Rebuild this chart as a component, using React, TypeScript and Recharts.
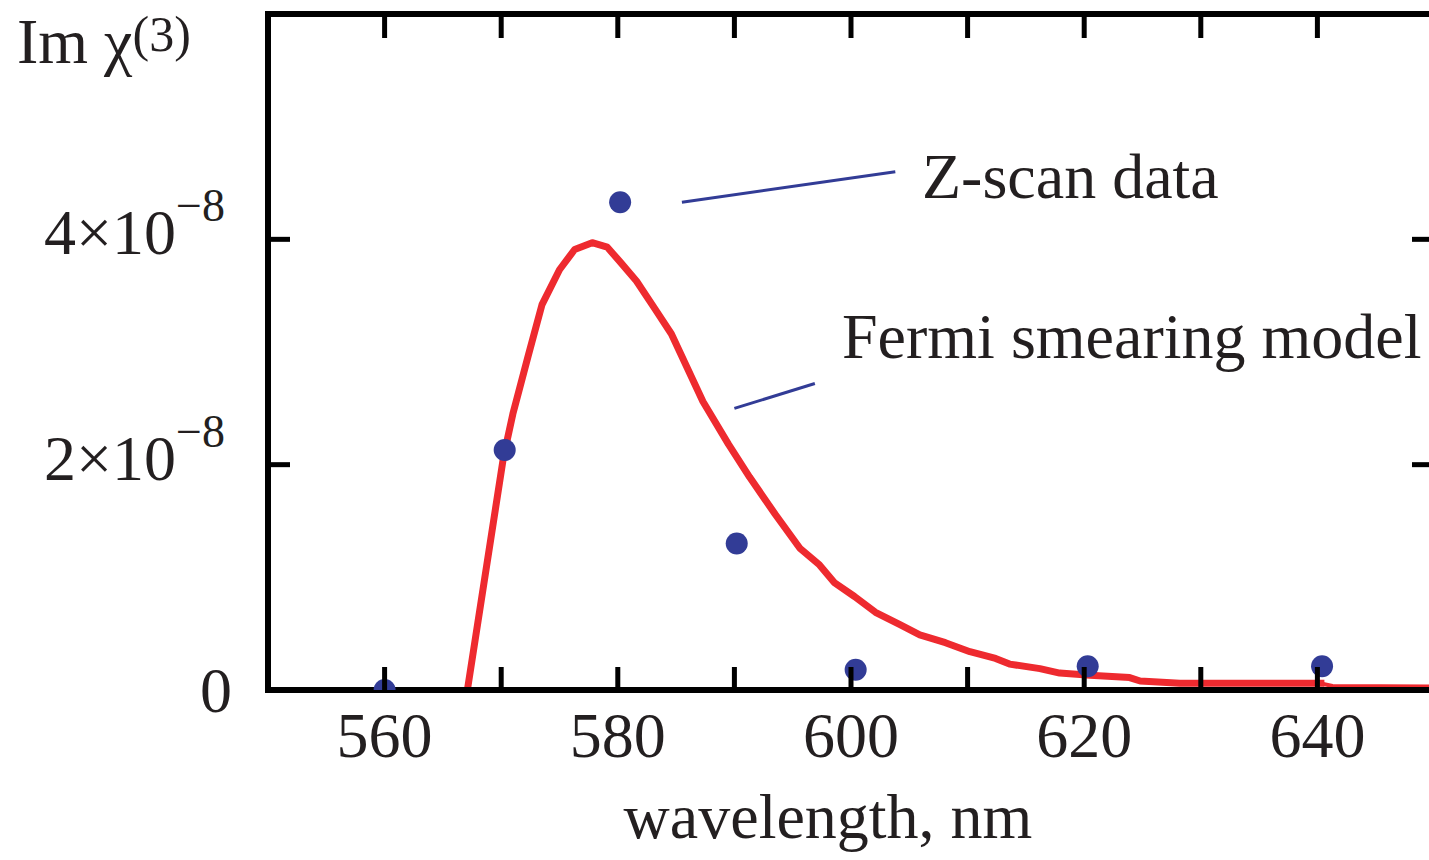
import { ComposedChart, Line, Scatter, XAxis, YAxis, ReferenceLine } from "recharts";

const FONT = '"Liberation Serif", "Times New Roman", Times, serif';
const INK = "#231F20";
const RED = "#EE2A2F";
const BLUE = "#323C96";

// layout
const CHART_W = 1440;
const CHART_H = 860;
const MARGIN = { top: 13, right: 5, left: 0, bottom: 0 };
const TOP_AXIS_H = 1;
const BOTTOM_AXIS_H = 170;
const PLOT_H = CHART_H - MARGIN.top - TOP_AXIS_H - BOTTOM_AXIS_H;

// x axis: wavelength, nm
const xTicks = [560, 570, 580, 590, 600, 610, 620, 630, 640];
const xLabels = [560, 580, 600, 620, 640];
// y axis: Im chi(3), in units of 1e-8
const yMax = 6;
const yTicks = [0, 2, 4];
const yRightTicks = [2, 4];

// Z-scan data points
const zscanWl = [560, 570.3, 580.2, 590.2, 600.4, 620.3, 640.4];
const zscanVal = [0, 2.13, 4.33, 1.3, 0.18, 0.21, 0.21];

// Fermi smearing model curve
const modelWl = [
  567.1, 570.2, 571.0, 572.3, 573.5, 575.0, 576.3, 577.8, 579.1, 580.2,
  581.6, 583.2, 584.6, 587.3, 589.5, 591.3, 593.5, 595.6, 597.3, 598.6,
  600.3, 602.1, 604.2, 605.9, 608.1, 610.2, 612.4, 613.6, 616.2, 617.9,
  620.5, 623.9, 624.8, 628.2, 640.6,
];
const modelVal = [
  0, 2.07, 2.45, 2.96, 3.42, 3.73, 3.91, 3.97, 3.93, 3.8,
  3.63, 3.38, 3.16, 2.56, 2.18, 1.89, 1.56, 1.26, 1.11, 0.95,
  0.83, 0.69, 0.58, 0.49, 0.42, 0.34, 0.28, 0.23, 0.19, 0.15,
  0.13, 0.11, 0.08, 0.06, 0.06,
];
// thinner tail of the model curve
const tailWl = [640.2, 641.3, 650];
const tailVal = [0.06, 0.035, 0.03];

const zscan = zscanWl.map((x, i) => ({ x, y: zscanVal[i] }));
const model = modelWl.map((x, i) => ({ x, y: modelVal[i] }));
const tail = tailWl.map((x, i) => ({ x, y: tailVal[i] }));

// pointer lines for the annotations (data coordinates)
const zscanPointer = [
  { x: 585.5, y: 4.33 },
  { x: 603.8, y: 4.6 },
];
const modelPointer = [
  { x: 590.0, y: 2.5 },
  { x: 596.9, y: 2.72 },
];

// bottom ticks also draw their mirrored twin on the top frame
function BottomTick(props: any) {
  const { x, y, payload } = props;
  const v = payload.value;
  const top = y - PLOT_H;
  return (
    <g>
      <line x1={x} x2={x} y1={y} y2={y - 23} stroke="#000" strokeWidth={5} />
      <line x1={x} x2={x} y1={top} y2={top + 24} stroke="#000" strokeWidth={5} />
      {xLabels.includes(v) && (
        <text x={x} y={y + 67} textAnchor="middle" fontFamily={FONT} fontSize={64} fill={INK}>
          {v}
        </text>
      )}
    </g>
  );
}

function LeftTick(props: any) {
  const { x, y, payload } = props;
  const v = payload.value;
  return (
    <g>
      <line x1={x} x2={x + 22} y1={y} y2={y} stroke="#000" strokeWidth={5} />
      {v === 0 ? (
        <text x={x - 36} y={y + 22} textAnchor="end" fontFamily={FONT} fontSize={64} fill={INK}>
          0
        </text>
      ) : (
        <text x={x - 43} y={y + 15} textAnchor="end" fontFamily={FONT} fontSize={64} fill={INK}>
          <tspan>{v}×10</tspan>
          <tspan dy={-33} fontSize={46}>
            −8
          </tspan>
        </text>
      )}
    </g>
  );
}

function RightTick(props: any) {
  const { x, y } = props;
  return <line x1={x} x2={x - 22} y1={y} y2={y} stroke="#000" strokeWidth={5} />;
}

const axisLine = { stroke: "#000", strokeWidth: 6, strokeLinecap: "square" as const };

export default function App() {
  return (
    <div
      style={{
        position: "fixed",
        left: 0,
        top: 0,
        width: 1429,
        height: 860,
        overflow: "hidden",
        background: "#fff",
      }}
    >
      <ComposedChart width={CHART_W} height={CHART_H} margin={MARGIN}>
        <XAxis
          type="number"
          dataKey="x"
          domain={[550, 650]}
          ticks={xTicks}
          interval={0}
          height={BOTTOM_AXIS_H}
          tickSize={0}
          tickMargin={0}
          tickLine={false}
          axisLine={axisLine}
          tick={<BottomTick />}
          allowDataOverflow
        />
        <XAxis
          xAxisId="top"
          orientation="top"
          type="number"
          dataKey="x"
          domain={[550, 650]}
          ticks={xTicks}
          interval={0}
          height={TOP_AXIS_H}
          tickLine={false}
          axisLine={axisLine}
          tick={false}
          allowDataOverflow
        />
        <YAxis
          type="number"
          domain={[0, yMax]}
          ticks={yTicks}
          interval={0}
          width={268}
          tickSize={0}
          tickMargin={0}
          tickLine={false}
          axisLine={axisLine}
          tick={<LeftTick />}
          allowDataOverflow
        />
        <YAxis
          yAxisId="right"
          orientation="right"
          type="number"
          domain={[0, yMax]}
          ticks={yRightTicks}
          interval={0}
          width={1}
          tickSize={0}
          tickMargin={0}
          tickLine={false}
          axisLine={axisLine}
          tick={<RightTick />}
          allowDataOverflow
        />
        {/* invisible series so the mirrored top/right axes have data bound to them */}
        <Line
          xAxisId="top"
          yAxisId="right"
          data={zscan}
          dataKey="y"
          stroke="none"
          dot={false}
          activeDot={false}
          legendType="none"
          isAnimationActive={false}
        />
        <Line
          data={model}
          dataKey="y"
          type="linear"
          stroke={RED}
          strokeWidth={7}
          strokeLinejoin="round"
          dot={false}
          activeDot={false}
          isAnimationActive={false}
        />
        <Line
          data={tail}
          dataKey="y"
          type="linear"
          stroke={RED}
          strokeWidth={4}
          dot={false}
          activeDot={false}
          isAnimationActive={false}
        />
        <Scatter
          data={zscan}
          dataKey="y"
          fill={BLUE}
          shape={(p: any) => <circle cx={p.cx} cy={p.cy} r={11} fill={BLUE} />}
          isAnimationActive={false}
        />
        <ReferenceLine segment={zscanPointer} stroke={BLUE} strokeWidth={3} ifOverflow="visible" />
        <ReferenceLine segment={modelPointer} stroke={BLUE} strokeWidth={3} ifOverflow="visible" />
      </ComposedChart>
      <svg
        width={1429}
        height={860}
        style={{ position: "absolute", left: 0, top: 0, pointerEvents: "none" }}
      >
        <text x={17} y={63} fontFamily={FONT} fontSize={64} fill={INK}>
          <tspan>Im χ</tspan>
          <tspan dy={-12} fontSize={50}>
            (3)
          </tspan>
        </text>
        <text x={922} y={198} fontFamily={FONT} fontSize={64} fill={INK}>
          Z-scan data
        </text>
        <text x={842} y={358} fontFamily={FONT} fontSize={64} fill={INK}>
          Fermi smearing model
        </text>
        <text x={828} y={838} textAnchor="middle" fontFamily={FONT} fontSize={64} fill={INK}>
          wavelength, nm
        </text>
      </svg>
    </div>
  );
}
